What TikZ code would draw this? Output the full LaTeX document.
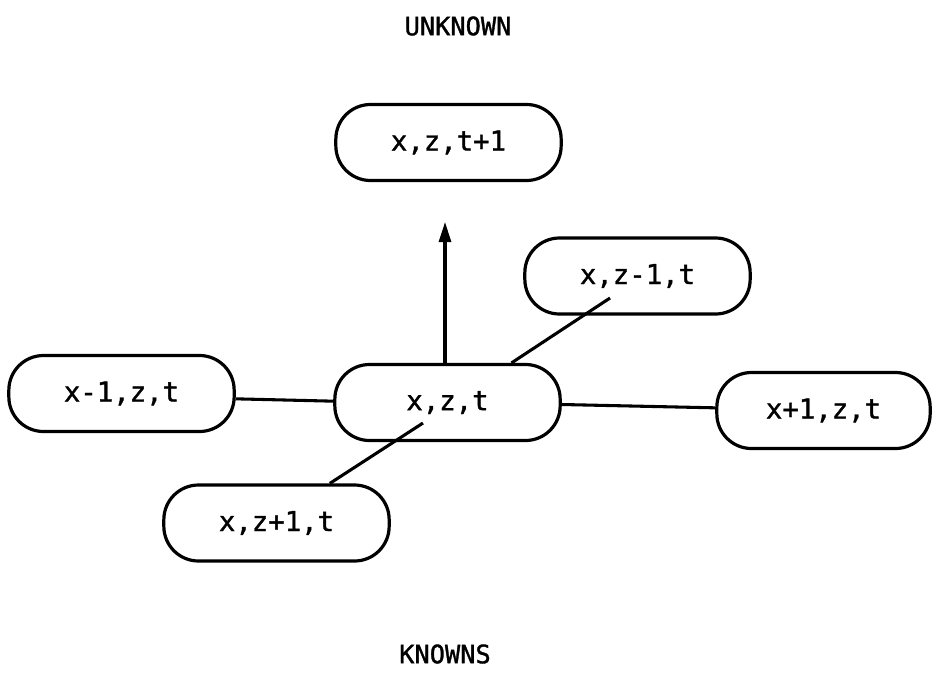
\documentclass[tikz,border=0pt]{standalone}
\usepackage{fontspec}
\newfontfamily\monofont[FakeBold=1.3]{DejaVu Sans Mono}
\usetikzlibrary{arrows.meta}
\begin{document}
\begin{tikzpicture}[x=0.75pt,y=-0.75pt,
  pill/.style={draw,line width=2.4pt,rounded corners=26pt,minimum width=169pt,minimum height=57pt,
    inner sep=0pt,font=\monofont\fontsize{20.5}{24}\selectfont},
  conn/.style={line width=2.3pt},
  heading/.style={font=\monofont\fontsize{19}{22}\selectfont}]
\useasboundingbox (0,0) rectangle (934,678);
\node[heading] (unknown) at (458,26) {UNKNOWN};
\node[heading] (knowns) at (445,654) {KNOWNS};
\node[pill] (t1) at (448.5,142.5) {x,z,t+1};
\node[pill] (zm) at (637.5,276) {x,z-1,t};
\node[pill] (xm) at (121.5,393.5) {x-1,z,t};
\node[pill] (c) at (447.5,402.5) {x,z,t};
\node[pill,minimum width=160pt] (xp) at (823.5,410.5) {x+1,z,t};
\node[pill] (zp) at (276.5,523) {x,z+1,t};
\coordinate (tip) at (445,222);
\coordinate (zmin) at ([xshift=-20.6pt,yshift=-16.5pt]zm.center);
\coordinate (cin) at ([xshift=-18.4pt,yshift=-15.4pt]c.center);
\coordinate (ctop) at ([xshift=48pt]c.north);
\coordinate (zptop) at ([xshift=40pt]zp.north);
\draw[conn] ([yshift=-4pt]xm.east) -- ([yshift=1pt]c.west);
\draw[conn] ([yshift=-1.5pt]c.east) -- ([yshift=2pt]xp.west);
\draw[conn,-{Triangle[length=15pt,width=9pt]}] (c.north -| tip) -- (tip);
\draw[conn] (ctop) -- (zmin);
\draw[conn] (zptop) -- (cin);
\end{tikzpicture}
\end{document}
